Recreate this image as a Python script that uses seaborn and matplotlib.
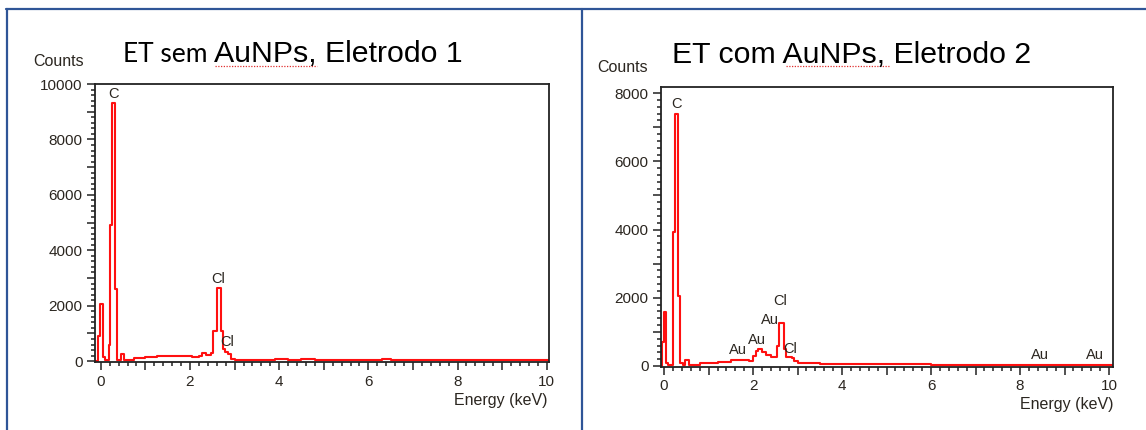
import matplotlib
matplotlib.use("Agg")
import matplotlib.pyplot as plt
from matplotlib.ticker import MultipleLocator, FuncFormatter
from matplotlib.lines import Line2D
import seaborn as sns

sns.set_theme(style="white")
plt.rcParams["font.family"] = ["Liberation Sans", "DejaVu Sans"]

# ---- EDS spectrum, electrode 1 (no AuNPs): bin start energy (keV) and counts
energy_1 = [-0.12, -0.07, -0.01, 0.05, 0.09, 0.18, 0.21, 0.26, 0.31, 0.37,
            0.45, 0.53, 0.62, 0.75, 0.85, 1.0, 1.25, 1.5, 1.65, 1.85,
            2.05, 2.2, 2.27, 2.35, 2.47, 2.52, 2.6, 2.69, 2.73, 2.78,
            2.86, 2.92, 3.0, 3.6, 3.9, 4.2, 4.5, 4.8, 5.5, 6.3,
            6.5, 7.5, 8.5, 10.05]
counts_1 = [0, 900, 2050, 150, 30, 600, 4900, 9300, 2600, 60,
            250, 60, 40, 100, 130, 150, 170, 200, 190, 200,
            140, 200, 300, 220, 300, 1100, 2650, 1100, 450, 330,
            250, 80, 60, 60, 70, 60, 80, 60, 50, 80,
            50, 40, 35, 30]

# ---- EDS spectrum, electrode 2 (with AuNPs)
energy_2 = [-0.07, -0.05, -0.01, 0.05, 0.09, 0.19, 0.21, 0.25, 0.31, 0.36,
            0.42, 0.48, 0.55, 0.65, 0.8, 1.2, 1.5, 1.9, 2.0, 2.07,
            2.1, 2.2, 2.3, 2.4, 2.53, 2.58, 2.62, 2.7, 2.75, 2.87,
            2.93, 3.0, 3.5, 4.0, 4.5, 5.0, 6.0, 7.5, 9.0, 10.09]
counts_2 = [0, 700, 1570, 100, 20, 500, 3920, 7380, 2040, 100,
            20, 170, 40, 30, 90, 120, 170, 150, 300, 450,
            500, 400, 320, 250, 580, 1250, 1250, 500, 260, 230,
            150, 80, 70, 60, 70, 50, 40, 40, 35, 30]

# ---- element labels: (text, energy, counts)
labels_1 = [("C", 0.28, 9650), ("Cl", 2.63, 2980), ("Cl", 2.83, 680)]
labels_2 = [("C", 0.27, 7680), ("Cl", 2.61, 1900), ("Au", 2.38, 1340),
            ("Au", 2.09, 760), ("Au", 1.65, 470), ("Cl", 2.84, 500),
            ("Au", 8.45, 320), ("Au", 9.69, 320)]

W, H = 1146, 430
fig = plt.figure(figsize=(W / 100, H / 100), dpi=100)
fig.patch.set_facecolor("white")

TXT = "#2b2620"
RED = "#ff1010"


def px_axes(x0, y0, x1, y1):
    return fig.add_axes([x0 / W, 1 - y1 / H, (x1 - x0) / W, (y1 - y0) / H])


def draw_panel(ax, energy, counts, labels, xlim, ylim):
    sns.lineplot(x=energy, y=counts, ax=ax, color=RED, linewidth=1.5,
                 drawstyle="steps-post", estimator=None, sort=False)
    ax.set_xlim(*xlim)
    ax.set_ylim(*ylim)
    ax.set_xlabel("")
    ax.set_ylabel("")
    ax.xaxis.set_major_locator(MultipleLocator(1))
    ax.xaxis.set_minor_locator(MultipleLocator(0.2))
    ax.yaxis.set_major_locator(MultipleLocator(1000))
    ax.yaxis.set_minor_locator(MultipleLocator(200))
    ax.xaxis.set_major_formatter(
        FuncFormatter(lambda v, p: f"{int(round(v))}" if round(v) % 2 == 0 else ""))
    ax.yaxis.set_major_formatter(
        FuncFormatter(lambda v, p: f"{int(round(v))}" if round(v) % 2000 == 0 else ""))
    ax.tick_params(which="both", bottom=True, left=True, top=False, right=False,
                   direction="out", color="#222222", width=1.1)
    ax.tick_params(which="major", length=6, labelsize=11, labelcolor=TXT, pad=3)
    ax.tick_params(which="minor", length=3)
    for s in ax.spines.values():
        s.set_visible(True)
        s.set_color("#222222")
        s.set_linewidth(1.3)
    for t, x, y in labels:
        ax.text(x, y, t, ha="center", va="center", fontsize=10.5, color=TXT)
    ax.grid(False)


ax1 = px_axes(95, 84, 549, 362)
draw_panel(ax1, energy_1, counts_1, labels_1, (-0.13, 10.05), (-30, 10000))

ax2 = px_axes(661, 87, 1113, 367)
draw_panel(ax2, energy_2, counts_2, labels_2, (-0.07, 10.09), (-30, 8180))

# axis captions
fig.text(59 / W, 1 - 62 / H, "Counts", ha="center", va="center", fontsize=11.5, color=TXT)
fig.text(623 / W, 1 - 67 / H, "Counts", ha="center", va="center", fontsize=11.5, color=TXT)
fig.text(548 / W, 1 - 400 / H, "Energy (keV)", ha="right", va="center", fontsize=11.5, color=TXT)
fig.text(1113 / W, 1 - 404 / H, "Energy (keV)", ha="right", va="center", fontsize=11.5, color=TXT)

# panel titles
fig.text(123 / W, 1 - 62 / H, "ET sem", ha="left", va="baseline", fontsize=19,
         color="black", family=["Lato", "DejaVu Sans"])
fig.text(214 / W, 1 - 62 / H, "AuNPs, Eletrodo 1", ha="left", va="baseline",
         fontsize=21.8, color="black")
fig.text(672 / W, 1 - 63 / H, "ET com AuNPs, Eletrodo 2", ha="left", va="baseline",
         fontsize=21.8, color="black")

# spell-check underline beneath "AuNPs"
for x0, x1 in ((215, 317), (786, 889)):
    fig.add_artist(Line2D([x0 / W, x1 / W], [1 - 66 / H, 1 - 66 / H],
                          color="#e03030", linewidth=0.9, linestyle=(0, (1, 1.2))))

# outer frame of the two-cell layout
FRAME = "#2f5597"
fig.add_artist(Line2D([6 / W, 1], [1 - 8.5 / H, 1 - 8.5 / H], color=FRAME, linewidth=1.6))
fig.add_artist(Line2D([6.5 / W, 6.5 / W], [0, 1 - 8.5 / H], color=FRAME, linewidth=1.6))
fig.add_artist(Line2D([582 / W, 582 / W], [0, 1 - 8.5 / H], color=FRAME, linewidth=1.6))

fig.savefig("out.png", dpi=100, facecolor="white")
